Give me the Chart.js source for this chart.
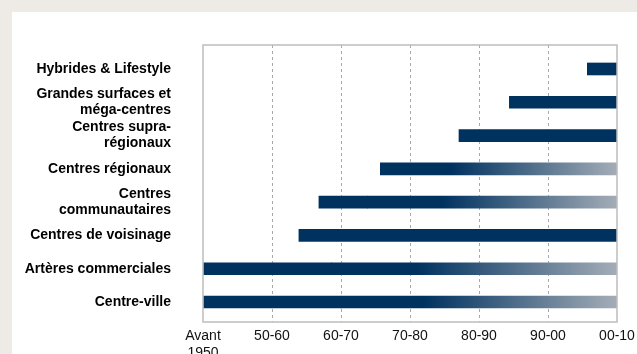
<!DOCTYPE html>
<html>
<head>
<meta charset="utf-8">
<script src="https://cdn.jsdelivr.net/npm/chart.js@4"></script>
<style>
  html, body { margin: 0; padding: 0; background: #eeebe6; }
  #panel { position: absolute; left: 12px; top: 12px; width: 625px; height: 342px; background: #fff; }
</style>
</head>
<body>
<div id="panel"><canvas id="bar-chart"></canvas></div>
<script>
// rows, top to bottom
var categories = [
  "Hybrides & Lifestyle",
  ["Grandes surfaces et", "méga-centres"],
  ["Centres supra-", "régionaux"],
  "Centres régionaux",
  ["Centres", "communautaires"],
  "Centres de voisinage",
  "Artères commerciales",
  "Centre-ville"
];
// periods on the x axis (0 = Avant 1950 ... 6 = 00-10)
var periods = [["Avant", "1950"], "50-60", "60-70", "70-80", "80-90", "90-00", "00-10"];

// solid part of each bar (start, end in period units)
var solidStart = [5.57, 4.44, 3.71, null, 1.68, 1.39, 0, 0];
var solidEnd   = [6, 6, 6, null, 2.38, 6, 1.86, 2.0];
// fading part of each bar
var fadeStart  = [null, null, null, 2.57, 2.38, null, 1.86, 2.0];
var fadeEnd    = [null, null, null, 6, 6, null, 6, 6];

var DARK = "#003260";
var LIGHT = "#a4adb7";

function segs(starts, ends) {
  var out = [];
  for (var i = 0; i < categories.length; i++) {
    if (starts[i] !== null) out.push({ x: [starts[i], ends[i]], y: i });
  }
  return out;
}

function fadeColor(ctx) {
  var chart = ctx.chart;
  var raw = ctx.raw;
  if (!chart.chartArea || !raw) return DARK;
  var xs = chart.scales.x;
  var x0 = xs.getPixelForValue(raw.x[0]);
  var x1 = xs.getPixelForValue(raw.x[1]);
  var g = chart.ctx.createLinearGradient(x0, 0, x1, 0);
  g.addColorStop(0, DARK);
  g.addColorStop(0.3, DARK);
  g.addColorStop(1, LIGHT);
  return g;
}

function noPad(s) {
  s.paddingTop = 0; s.paddingBottom = 0; s.paddingLeft = 0; s.paddingRight = 0;
}

var frame = {
  id: "frame",
  afterDatasetsDraw: function (chart) {
    var a = chart.chartArea, c = chart.ctx;
    c.save();
    c.strokeStyle = "#bdbdbd";
    c.lineWidth = 1.5;
    c.strokeRect(a.left, a.top, a.right - a.left, a.bottom - a.top);
    c.restore();
  }
};

new Chart(document.getElementById("bar-chart"), {
  type: "bar",
  data: {
    datasets: [{
        data: segs(solidStart, solidEnd),
        backgroundColor: DARK,
        grouped: false,
        barThickness: 12
      }, {
        data: segs(fadeStart, fadeEnd),
        backgroundColor: fadeColor,
        grouped: false,
        barThickness: 12
      }
    ]
  },
  plugins: [frame],
  options: {
    indexAxis: "y",
    responsive: true,
    maintainAspectRatio: false,
    animation: false,
    layout: { padding: { top: 33, right: 20, left: 0, bottom: 0 } },
    plugins: { legend: { display: false }, tooltip: { enabled: false } },
    scales: {
      x: {
        type: "linear",
        position: "bottom",
        min: 0,
        max: 6,
        offset: false,
        afterBuildTicks: function (s) { s.ticks = periods.map(function (p, i) { return { value: i }; }); },
        afterFit: function (s) { s.height = 32; noPad(s); },
        grid: {
          offset: false,
          drawTicks: false,
          color: function (c) { return (c.tick && (c.tick.value === 0 || c.tick.value === 6)) ? "rgba(0,0,0,0)" : "#a9a9a9"; },
          lineWidth: 1
        },
        border: { display: false, dash: [3, 3] },
        ticks: {
          autoSkip: false,
          maxRotation: 0,
          padding: 6,
          color: "#111",
          font: { family: "Liberation Sans", size: 14, lineHeight: 1.2 },
          callback: function (v) { return periods[v]; }
        }
      },
      y: {
        type: "linear",
        reverse: true,
        min: -0.72,
        max: 7.6,
        offset: false,
        afterBuildTicks: function (s) { s.ticks = categories.map(function (c, i) { return { value: i }; }); },
        afterFit: function (s) { s.width = 191; noPad(s); },
        grid: { display: false, drawTicks: false, offset: false },
        border: { display: false },
        ticks: {
          autoSkip: false,
          padding: 32,
          color: "#000",
          font: { family: "Liberation Sans", size: 14, weight: "bold", lineHeight: 1.15 },
          callback: function (v) { return categories[v]; }
        }
      }
    }
  }
});
</script>
</body>
</html>
